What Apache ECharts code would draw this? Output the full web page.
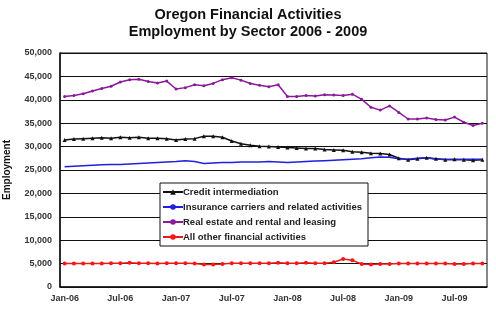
<!DOCTYPE html>
<html>
<head>
<meta charset="utf-8">
<script src="https://cdn.jsdelivr.net/npm/echarts@6/dist/echarts.min.js"></script>
<style>
  html, body { margin: 0; padding: 0; background: #fff; }
  #chart { width: 496px; height: 331px; }
</style>
</head>
<body>
<div id="chart"></div>
<script>
// Monthly categories, Jan 2006 through Oct 2009
const months = [
  'Jan-06','Feb-06','Mar-06','Apr-06','May-06','Jun-06','Jul-06','Aug-06','Sep-06','Oct-06','Nov-06','Dec-06',
  'Jan-07','Feb-07','Mar-07','Apr-07','May-07','Jun-07','Jul-07','Aug-07','Sep-07','Oct-07','Nov-07','Dec-07',
  'Jan-08','Feb-08','Mar-08','Apr-08','May-08','Jun-08','Jul-08','Aug-08','Sep-08','Oct-08','Nov-08','Dec-08',
  'Jan-09','Feb-09','Mar-09','Apr-09','May-09','Jun-09','Jul-09','Aug-09','Sep-09','Oct-09'
];

// Labelled months on the x axis
const tickLabels = ['Jan-06','Jul-06','Jan-07','Jul-07','Jan-08','Jul-08','Jan-09','Jul-09'];

const creditIntermediation = [
  31400,31600,31700,31800,31900,31800,32000,31900,32000,31800,31800,31700,
  31400,31600,31700,32200,32200,32000,31200,30600,30300,30100,30000,29900,
  29800,29700,29600,29600,29400,29300,29200,28900,28800,28600,28500,28300,
  27500,27200,27400,27600,27400,27200,27300,27200,27100,27200
];

const insuranceCarriers = [
  25700,25800,25900,26000,26100,26200,26200,26300,26400,26500,26600,26700,
  26800,27000,26800,26400,26500,26600,26600,26700,26700,26700,26800,26700,
  26600,26700,26800,26900,27000,27100,27200,27300,27400,27600,27800,27700,
  27400,27300,27500,27600,27300,27300,27200,27300,27300,27300
];

const realEstate = [
  40700,40900,41300,41900,42400,42900,43800,44300,44400,43900,43600,44000,
  42300,42600,43200,43000,43500,44300,44700,44200,43500,43100,42800,43200,
  40700,40700,40900,40800,41100,41000,40900,41200,40100,38400,37800,38700,
  37300,35900,35900,36100,35800,35700,36300,35200,34500,35000
];

const allOther = [
  5000,5000,5000,5000,5000,5100,5100,5200,5100,5100,5000,5100,
  5100,5100,5000,4800,4800,4900,5100,5100,5100,5100,5100,5200,
  5100,5100,5200,5100,5100,5300,6000,5700,4900,4800,4900,4900,
  5000,5000,5000,5000,5000,5000,4900,4900,5000,5000
];

const FONT = '"Liberation Sans", Arial, sans-serif';

const chart = echarts.init(document.getElementById('chart'), null, { renderer: 'canvas' });

function lineSeries(name, data, color, symbol, size) {
  return {
    name: name,
    type: 'line',
    data: data,
    color: color,
    symbol: symbol,
    symbolSize: size,
    showSymbol: symbol !== 'none',
    lineStyle: { color: color, width: 1.5 },
    itemStyle: { color: color },
    animation: false
  };
}

chart.setOption({
  backgroundColor: '#ffffff',
  title: {
    text: 'Oregon Financial Activities\nEmployment by Sector 2006 - 2009',
    left: 'center',
    top: 1,
    textStyle: {
      fontFamily: FONT,
      fontSize: 14.5,
      fontWeight: 'bold',
      color: '#111',
      lineHeight: 17
    }
  },
  grid: {
    left: 60,
    right: 9,
    top: 53,
    bottom: 44,
    outerBoundsMode: 'none',
    containLabel: false,
    show: true,
    borderColor: '#111',
    borderWidth: 1
  },
  legend: {
    orient: 'vertical',
    left: 160,
    top: 183,
    width: 208,
    itemWidth: 20,
    itemHeight: 7,
    itemGap: 5,
    padding: [4, 6, 4, 2],
    backgroundColor: '#fff',
    borderColor: '#111',
    borderWidth: 1,
    textStyle: {
      fontFamily: FONT,
      fontSize: 9.5,
      fontWeight: 'bold',
      color: '#222',
      padding: [0, 0, 0, -5]
    },
    data: [
      'Credit intermediation',
      'Insurance carriers and related activities',
      'Real estate and rental and leasing',
      'All other financial activities'
    ]
  },
  xAxis: {
    type: 'category',
    data: months,
    boundaryGap: true,
    axisLine: { lineStyle: { color: '#111', width: 1.5 } },
    axisTick: { show: false },
    axisLabel: {
      interval: 0,
      formatter: (v) => (tickLabels.indexOf(v) >= 0 ? v : ''),
      fontFamily: FONT,
      fontSize: 9,
      fontWeight: 'bold',
      color: '#333',
      margin: 7
    },
    splitLine: { show: false }
  },
  yAxis: {
    type: 'value',
    min: 0,
    max: 50000,
    interval: 5000,
    name: 'Employment',
    nameLocation: 'middle',
    nameGap: 48,
    nameRotate: 90,
    nameTextStyle: {
      fontFamily: FONT,
      fontSize: 10,
      fontWeight: 'bold',
      color: '#111'
    },
    axisLine: { show: true, lineStyle: { color: '#111', width: 1.5 } },
    axisTick: { show: false },
    axisLabel: {
      formatter: (v) => v.toLocaleString('en-US'),
      fontFamily: FONT,
      fontSize: 9,
      fontWeight: 'bold',
      color: '#333',
      margin: 8
    },
    splitLine: { show: true, lineStyle: { color: '#111', width: 1 } }
  },
  series: [
    lineSeries('Credit intermediation', creditIntermediation, '#111111', 'triangle', 4),
    lineSeries('Insurance carriers and related activities', insuranceCarriers, '#1f1fe0', 'none', 0),
    lineSeries('Real estate and rental and leasing', realEstate, '#8a1a9a', 'circle', 3),
    lineSeries('All other financial activities', allOther, '#f01818', 'circle', 4)
  ]
});
</script>
</body>
</html>
